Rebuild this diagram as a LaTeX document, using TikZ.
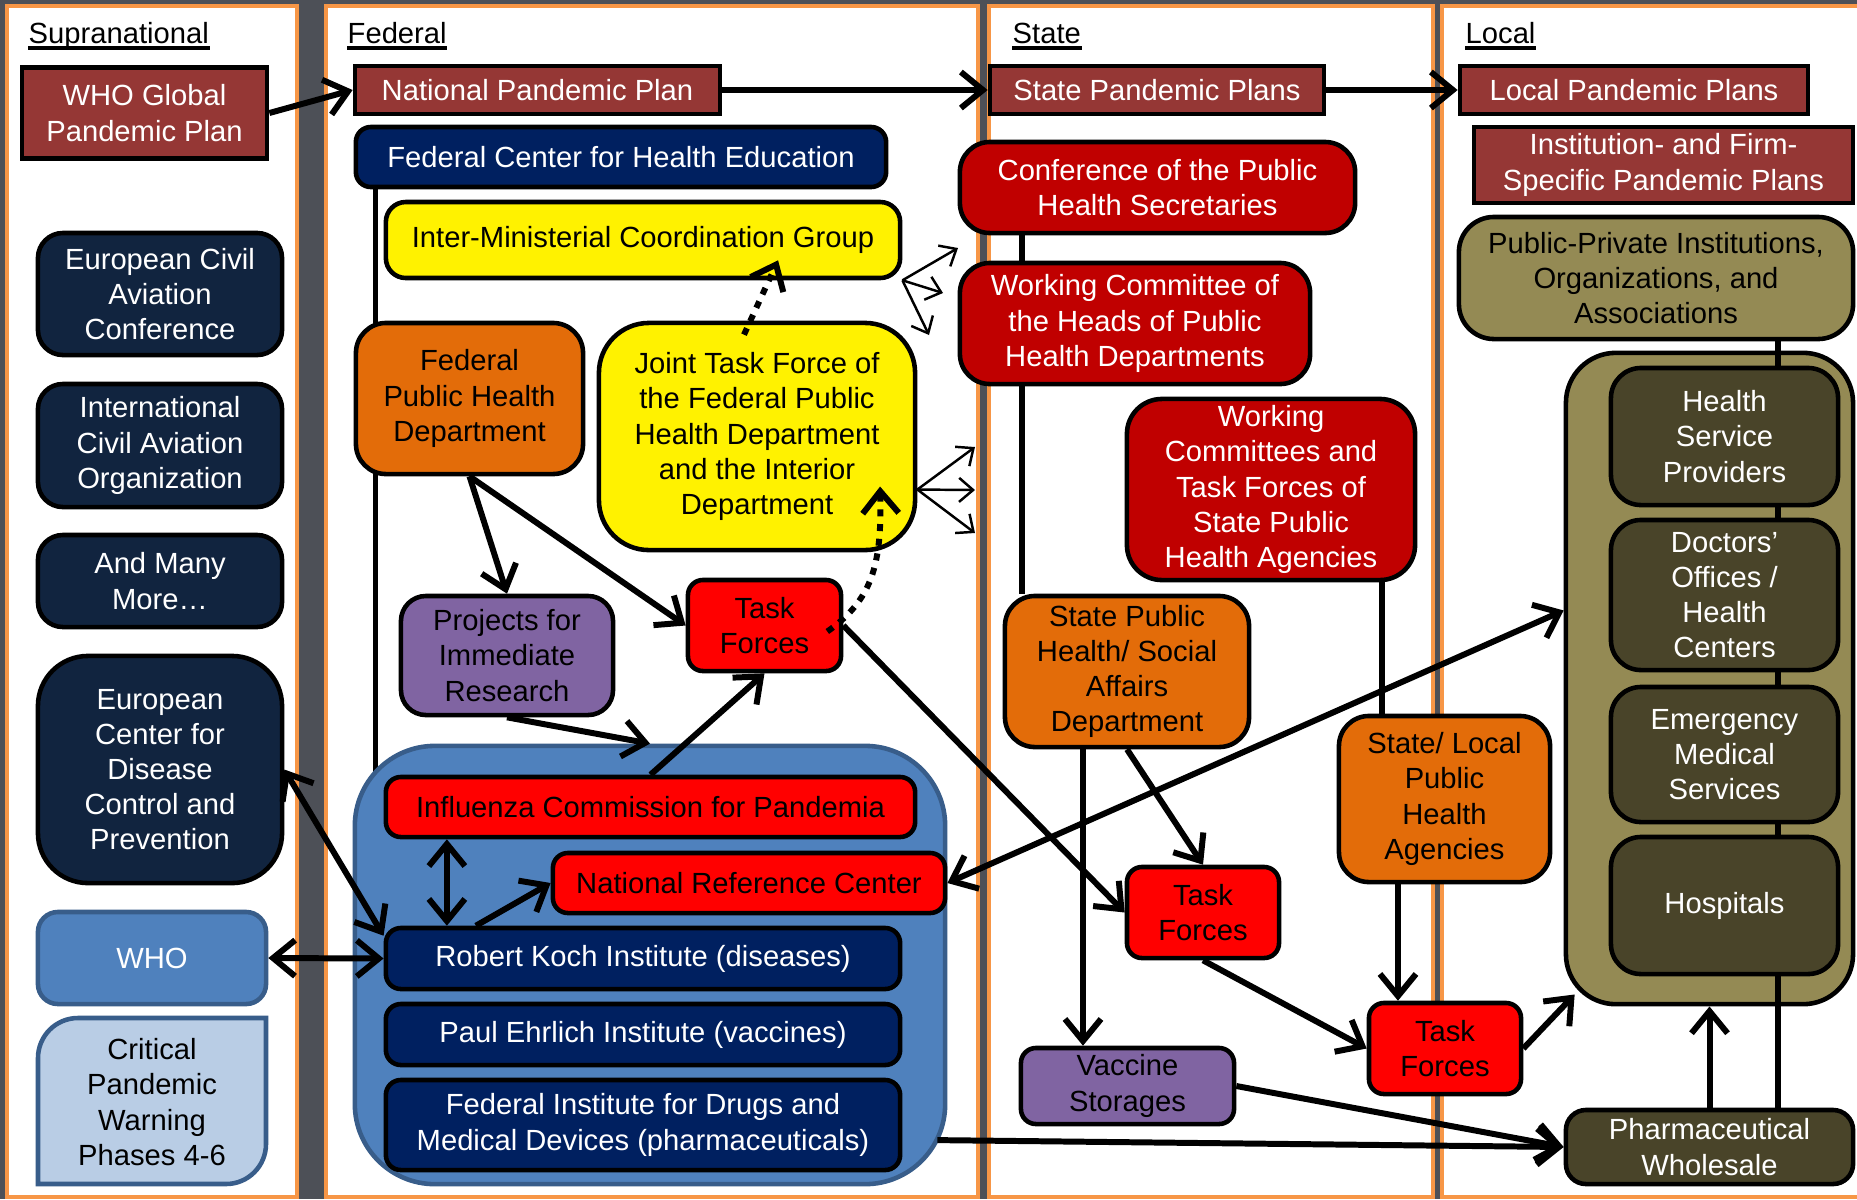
\documentclass[tikz,border=0pt]{standalone}
\usepackage{fontspec}
\setmainfont{Liberation Sans}
\usetikzlibrary{arrows.meta,backgrounds}
\definecolor{bggray}{HTML}{4D5057}
\definecolor{panelorange}{HTML}{F79646}
\definecolor{planred}{HTML}{953735}
\definecolor{fednavy}{HTML}{002060}
\definecolor{supnavy}{HTML}{11243F}
\definecolor{taskred}{HTML}{FF0000}
\definecolor{statered}{HTML}{C00000}
\definecolor{deptorange}{HTML}{E36C09}
\definecolor{projpurple}{HTML}{8064A2}
\definecolor{whoblue}{HTML}{4F81BD}
\definecolor{whoedge}{HTML}{385D8A}
\definecolor{paleblue}{HTML}{B9CDE5}
\definecolor{olivefill}{HTML}{948A54}
\definecolor{darkolive}{HTML}{494429}
\begin{document}
\begin{tikzpicture}[>={Straight Barb[length=2.2mm,width=3.6mm]}, x=0.01cm, y=-0.01cm,
    font=\fontsize{8.3}{10}\selectfont,
    panel/.style={fill=white, draw=panelorange, line width=1.2pt},
    coltitle/.style={anchor=base west, inner sep=0pt},
    box/.style={draw, line width=1.3pt, rounded corners=2mm, align=center, inner sep=0pt},
    plan/.style={box, rounded corners=0pt, fill=planred, text=white},
    fed/.style={box, rounded corners=1.5mm, fill=fednavy, text=white},
    supbox/.style={box, rounded corners=2.5mm, fill=supnavy, text=white},
    yel/.style={box, fill=yellow},
    dept/.style={box, rounded corners=3mm, fill=deptorange},
    proj/.style={box, rounded corners=2.5mm, fill=projpurple},
    task/.style={box, rounded corners=1.5mm, fill=taskred},
    stred/.style={box, rounded corners=3mm, fill=statered, text=white},
    loc/.style={box, rounded corners=3mm, fill=darkolive, text=white, minimum width=2.27cm},
    flow/.style={line width=1.7pt},
    link/.style={line width=1.5pt},
    thinflow/.style={line width=0.7pt, -{Straight Barb[length=1.4mm,width=2.4mm]}},
    dotflow/.style={line width=1.7pt, dash pattern=on 2pt off 2.2pt, ->},
  ]
\useasboundingbox (0,0) rectangle (1857,1199);
% background and the four levels
\begin{scope}[on background layer]
  \fill[bggray] (0,0) rectangle (1857,1199);
  \foreach \xa/\xb in {7/297, 326/978, 989/1433, 1442/1880}
    \draw[panel] (\xa,6) rectangle (\xb,1197);
\end{scope}
\node[coltitle] (tsup) at (28,43) {Supranational};
\node[coltitle] (tfed) at (347,43) {Federal};
\node[coltitle] (tstate) at (1012,43) {State};
\node[coltitle] (tlocal) at (1465,43) {Local};
\foreach \t in {tsup,tfed,tstate,tlocal}
  \draw[line width=0.9pt] ([yshift=-1.4pt]\t.base west) -- ([yshift=-1.4pt]\t.base east);

% supranational
\node[plan, minimum width=2.45cm, minimum height=0.91cm] (whoplan) at (144.5,113) {WHO Global\\Pandemic Plan};
\node[supbox, minimum width=2.44cm, minimum height=1.22cm] (ecac) at (160,294) {European Civil\\Aviation\\Conference};
\node[supbox, minimum width=2.44cm, minimum height=1.23cm] (icao) at (160,445.5) {International\\Civil Aviation\\Organization};
\node[supbox, minimum width=2.44cm, minimum height=0.92cm] (more) at (160,581) {And Many\\More…};
\node[supbox, rounded corners=5mm, minimum width=2.44cm, minimum height=2.27cm] (ecdc) at (160,769.5) {European\\Center for\\Disease\\Control and\\Prevention};
\node[box, draw=whoedge, fill=whoblue, text=white, minimum width=2.28cm, minimum height=0.92cm] (who) at (152,958) {WHO};
\filldraw[fill=paleblue, draw=whoedge, line width=1.3pt] (38,1184) -- (38,1058) arc(180:270:40) -- (266,1018) -- (266,1144) arc(0:90:40) -- cycle;
\node[align=center] (phases) at (152,1102) {Critical\\Pandemic\\Warning\\Phases 4-6};

% federal
\node[plan, minimum width=3.65cm, minimum height=0.48cm] (natplan) at (537.5,90) {National Pandemic Plan};
\node[fed, minimum width=5.30cm, minimum height=0.60cm] (fche) at (621,157) {Federal Center for Health Education};
\node[yel, minimum width=5.14cm, minimum height=0.76cm] (imcg) at (643,240) {Inter-Ministerial Coordination Group};
\node[dept, minimum width=2.27cm, minimum height=1.51cm] (fphd) at (469.5,398.5) {Federal\\Public Health\\Department};
\node[yel, rounded corners=5mm, minimum width=3.16cm, minimum height=2.27cm] (jtf) at (757,436.5) {Joint Task Force of\\the Federal Public\\Health Department\\and the Interior\\Department};
\node[proj, minimum width=2.12cm, minimum height=1.19cm] (projects) at (507,655.5) {Projects for\\Immediate\\Research};
\node[task, minimum width=1.53cm, minimum height=0.91cm] (tffed) at (764.5,625.5) {Task\\Forces};
\node[box, draw=whoedge, fill=whoblue, rounded corners=8mm, minimum width=5.90cm, minimum height=4.38cm] (bluebox) at (650,965) {};
\node[task, minimum width=5.29cm, minimum height=0.60cm] (influenza) at (650.5,807) {Influenza Commission for Pandemia};
\node[task, minimum width=3.92cm, minimum height=0.60cm] (nrc) at (749,883) {National Reference Center};
\node[fed, minimum width=5.14cm, minimum height=0.61cm] (rki) at (643,958.5) {Robert Koch Institute (diseases)};
\node[fed, minimum width=5.14cm, minimum height=0.61cm] (pei) at (643,1034.5) {Paul Ehrlich Institute (vaccines)};
\node[fed, minimum width=5.14cm, minimum height=0.90cm] (bfarm) at (643,1125) {Federal Institute for Drugs and\\Medical Devices (pharmaceuticals)};

% state
\node[plan, minimum width=3.34cm, minimum height=0.48cm] (stateplan) at (1157,90) {State Pandemic Plans};
\node[stred, minimum width=3.95cm, minimum height=0.91cm] (conf) at (1157.5,187.5) {Conference of the Public\\Health Secretaries};
\node[stred, minimum width=3.50cm, minimum height=1.21cm] (wchead) at (1135,323.5) {Working Committee of\\the Heads of Public\\Health Departments};
\node[stred, rounded corners=3.5mm, minimum width=2.88cm, minimum height=1.81cm] (wcstate) at (1271,489.5) {Working\\Committees and\\Task Forces of\\State Public\\Health Agencies};
\node[dept, minimum width=2.44cm, minimum height=1.51cm] (sphd) at (1127,671.5) {State Public\\Health/ Social\\Affairs\\Department};
\node[task, minimum width=1.52cm, minimum height=0.91cm] (tfstate) at (1203,912.5) {Task\\Forces};
\node[dept, minimum width=2.11cm, minimum height=1.66cm] (slpha) at (1444.5,799) {State/ Local\\Public\\Health\\Agencies};
\node[task, minimum width=1.52cm, minimum height=0.91cm] (tflocal) at (1445,1048.5) {Task\\Forces};
\node[proj, rounded corners=1.5mm, minimum width=2.13cm, minimum height=0.76cm] (vaccine) at (1127.5,1086) {Vaccine\\Storages};

% local
\node[plan, minimum width=3.48cm, minimum height=0.48cm] (localplan) at (1634,90) {Local Pandemic Plans};
\node[plan, minimum width=3.79cm, minimum height=0.76cm] (instplan) at (1663.5,165) {Institution- and Firm-\\Specific Pandemic Plans};
\node[box, rounded corners=3.5mm, fill=olivefill, minimum width=3.94cm, minimum height=1.22cm] (ppi) at (1656,278) {Public-Private Institutions,\\Organizations, and\\Associations};
\node[box, rounded corners=5mm, fill=olivefill, minimum width=2.87cm, minimum height=6.51cm] (olivebox) at (1709.5,678.5) {};
\node[loc, minimum height=1.37cm] (hsp) at (1724.5,436.5) {Health\\Service\\Providers};
\node[loc, minimum height=1.50cm] (doctors) at (1724.5,595) {Doctors’\\Offices /\\Health\\Centers};
\node[loc, minimum height=1.35cm] (ems) at (1724.5,754.5) {Emergency\\Medical\\Services};
\node[loc, minimum height=1.37cm] (hospitals) at (1724.5,905.5) {Hospitals};
\node[loc, rounded corners=2mm, minimum width=2.87cm, minimum height=0.74cm] (pw) at (1709.5,1147) {Pharmaceutical\\Wholesale};

% lines running behind the boxes
\begin{scope}[on background layer]
  \draw[link] ([xshift=2.2mm]fche.south west) -- ++(0,600);
  \draw[link] ([xshift=-1.355cm]conf.south) -- ([xshift=-1.355cm]conf.south |- sphd.north);
\end{scope}
\coordinate (xline) at (1778,0);
\foreach \a/\b in {ppi/hsp, hsp/doctors, doctors/ems, ems/hospitals, hospitals/pw}
  \draw[link] (\a.south -| xline) -- (\b.north -| xline);
\draw[link] ([xshift=1.11cm]wcstate.south) -- ([xshift=1.11cm]wcstate.south |- slpha.north);

% plans
\draw[->, flow] (whoplan.east) -- (natplan.west);
\draw[->, flow] (natplan) -- (stateplan);
\draw[->, flow] (stateplan) -- (localplan);

% supranational links
\draw[<->, flow] (ecdc.east) -- ([yshift=-1mm]rki.north west);
\draw[<->, flow] (who.east) -- (rki.west);

% federal
\draw[dotflow] ([shift={(-1.3mm,-1.4mm)}]jtf.north) -- ([shift={(1.35cm,2mm)}]imcg.south);
\draw[dotflow] ([shift={(-1.6mm,-0.6mm)}]tffed.east) .. controls (872,600) and (882,565) .. ([shift={(1.23cm,-0.5cm)}]jtf.center);
\coordinate (imcgA) at (958,248);
\coordinate (imcgB) at (943,293);
\coordinate (imcgC) at (929,335);
\coordinate (jtfA) at (975,447);
\coordinate (jtfB) at (975,490);
\coordinate (jtfC) at (975,533);
\foreach \e in {imcgA,imcgB,imcgC}
  \draw[thinflow] (imcg.south east) -- (\e);
\foreach \e in {jtfA,jtfB,jtfC}
  \draw[thinflow] ([yshift=-5.3mm]jtf.east) -- (\e);
\draw[->, flow] (fphd.south) -- (projects.north);
\draw[->, flow] (fphd.south) -- (tffed.west);
\draw[->, flow] (projects.south) -- (bluebox.north);
\draw[->, flow] (influenza.north) -- (tffed.south);
\draw[->, flow] (tffed.east) -- (tfstate.west);
\draw[<->, flow] ([xshift=-2.035cm]influenza.south) -- ([xshift=-2.035cm]influenza.south |- rki.north);
\draw[->, flow] ([xshift=-1.67cm]rki.north) -- (nrc.west);
\draw[<->, flow] (nrc.east) -- ([yshift=6.8mm]olivebox.west);
\draw[->, flow] ([shift={(-1mm,-1.75cm)}]bluebox.east) -- (pw.west);

% state and local
\draw[->, flow] ([xshift=-4.4mm]sphd.south) -- ([xshift=-4.4mm]sphd.south |- vaccine.north);
\draw[->, flow] (sphd.south) -- (tfstate.north);
\draw[->, flow] (tfstate.south) -- (tflocal.west);
\draw[->, flow] ([xshift=-4.65mm]slpha.south) -- ([xshift=-4.65mm]slpha.south |- tflocal.north);
\draw[->, flow] (tflocal.east) -- ([shift={(1.1mm,1.2mm)}]olivebox.south west);
\draw[->, flow] (vaccine.east) -- (pw.west);
\draw[->, flow] (pw.north) -- (olivebox.south);
\end{tikzpicture}
\end{document}
